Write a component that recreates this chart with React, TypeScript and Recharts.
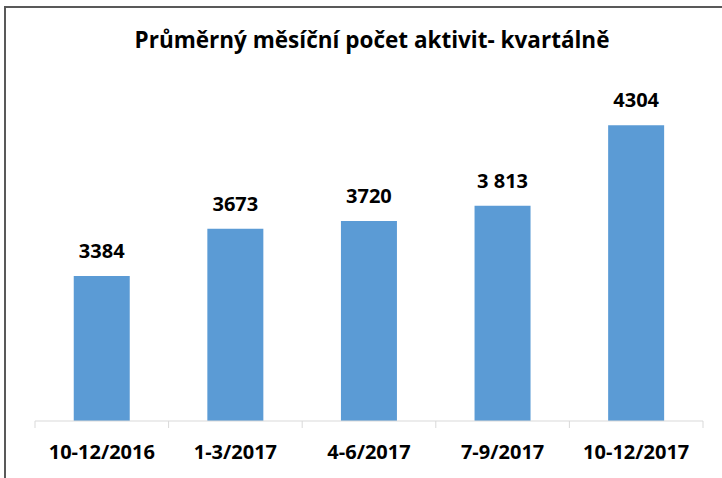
import React from 'react';
import { BarChart, Bar, XAxis, YAxis, LabelList } from 'recharts';

const categories = ['10-12/2016', '1-3/2017', '4-6/2017', '7-9/2017', '10-12/2017'];
const values = [3384, 3673, 3720, 3813, 4304];
const valueLabels = ['3384', '3673', '3720', '3 813', '4304'];

const data = categories.map((c, i) => ({ name: c, value: values[i], label: valueLabels[i] }));

const W = 722;
const H = 478;
const margin = { top: 93, right: 19, bottom: 0, left: 35 };
const band = (W - margin.left - margin.right) / categories.length;

const font = '"Open Sans", sans-serif';

function CatTick(props: any) {
  const { x, y, payload, index } = props;
  const half = band / 2;
  return (
    <g>
      <line x1={x - half} x2={x - half} y1={y} y2={y + 7} stroke="#d9d9d9" />
      {index === categories.length - 1 && (
        <line x1={x + half} x2={x + half} y1={y} y2={y + 7} stroke="#d9d9d9" />
      )}
      <text x={x} y={y + 38} textAnchor="middle" fontFamily={font} fontWeight={700} fontSize={20} fill="#000">
        {payload.value}
      </text>
    </g>
  );
}

export default function App() {
  return (
    <div style={{ position: 'absolute', left: 0, top: 0, width: W, height: H, background: '#fff' }}>
      <div style={{ position: 'absolute', left: 4, top: 6, right: 0, bottom: 0, borderLeft: '2px solid #595959', borderTop: '2px solid #595959' }} />
      <div style={{ position: 'absolute', left: 0, top: 24, width: 744, textAlign: 'center', fontFamily: font, fontWeight: 700, fontSize: 22.5, color: '#000', whiteSpace: 'nowrap' }}>
        Průměrný měsíční počet aktivit- kvartálně
      </div>
      <div style={{ position: 'absolute', left: 0, top: 0 }}>
        <BarChart width={W} height={H} data={data} margin={margin} barCategoryGap="29%">
          <XAxis dataKey="name" axisLine={{ stroke: '#d9d9d9' }} tickLine={false} tickSize={0} tickMargin={0} tick={<CatTick />} height={57} interval={0} />
          <YAxis hide domain={[2500, 4500]} />
          <Bar dataKey="value" fill="#5b9bd5" isAnimationActive={false}>
            <LabelList dataKey="label" position="top" offset={18} fontFamily={font} fontWeight={700} fontSize={20} fill="#000" />
          </Bar>
        </BarChart>
      </div>
    </div>
  );
}
